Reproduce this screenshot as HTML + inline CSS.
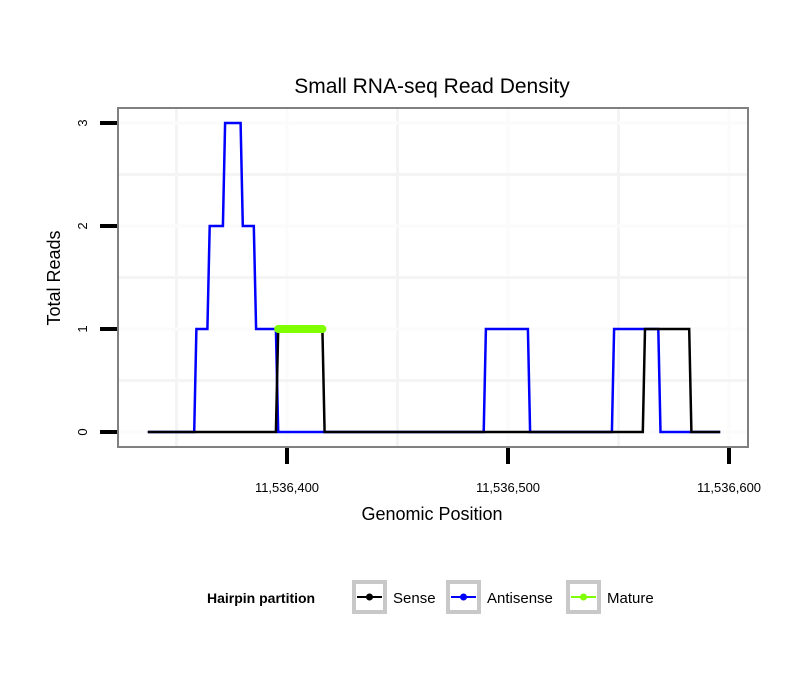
<!DOCTYPE html>
<html><head><meta charset="utf-8"><style>
body{margin:0;background:#fff;width:810px;height:690px;overflow:hidden}
svg text{font-family:"Liberation Sans",sans-serif}
</style></head><body>
<svg width="810" height="690" xmlns="http://www.w3.org/2000/svg">
<text x="432" y="93" text-anchor="middle" font-size="21">Small RNA-seq Read Density</text>
<g id="grid"></g>
<rect x="118" y="108" width="630" height="339" fill="none" stroke="#808080" stroke-width="2"/>
<g id="axes"></g>
<g id="series"></g>
<text x="432" y="520" text-anchor="middle" font-size="18">Genomic Position</text>
<text transform="translate(60,278) rotate(-90)" text-anchor="middle" font-size="18">Total Reads</text>
<g>
<text x="207" y="603" font-size="14" font-weight="bold">Hairpin partition</text>
<g><rect x="354" y="582" width="31" height="30" fill="none" stroke="#c8c8c8" stroke-width="4"/><line x1="357" y1="597" x2="382" y2="597" stroke="#000" stroke-width="2"/><circle cx="369.5" cy="597" r="3.5" fill="#000"/><text x="393" y="603" font-size="15">Sense</text></g>
<g><rect x="448" y="582" width="31" height="30" fill="none" stroke="#c8c8c8" stroke-width="4"/><line x1="451" y1="597" x2="476" y2="597" stroke="#0000ff" stroke-width="2"/><circle cx="463.5" cy="597" r="3.5" fill="#0000ff"/><text x="487" y="603" font-size="15">Antisense</text></g>
<g><rect x="568" y="582" width="31" height="30" fill="none" stroke="#c8c8c8" stroke-width="4"/><line x1="571" y1="597" x2="596" y2="597" stroke="#7fff00" stroke-width="2"/><circle cx="583.5" cy="597" r="3.5" fill="#7fff00"/><text x="607" y="603" font-size="15">Mature</text></g>
</g>
</svg>
<script>
const xTicks=[11536400,11536500,11536600];
const xTickLabels=["11,536,400","11,536,500","11,536,600"];
const yTicks=[0,1,2,3];
const antisensePos=[11536337,11536358,11536359,11536364,11536365,11536371,11536372,11536379,11536380,11536385,11536386,11536395,11536396,11536489,11536490,11536509,11536510,11536547,11536548,11536568,11536569,11536596];
const antisenseVal=[0,0,1,1,2,2,3,3,2,2,1,1,0,0,1,1,0,0,1,1,0,0];
const sensePos=[11536337,11536395,11536396,11536416,11536417,11536561,11536562,11536582,11536583,11536596];
const senseVal=[0,0,1,1,0,0,1,1,0,0];
const maturePos=[11536396,11536416];
const matureVal=[1,1];
const NS='http://www.w3.org/2000/svg';
const xs=v=>287+(v-11536400)*2.21;
const ys=v=>432-v*103;
function mk(tag,attrs,parent){const e=document.createElementNS(NS,tag);for(const k in attrs)e.setAttribute(k,attrs[k]);document.getElementById(parent).appendChild(e);return e;}
// grid
for(let v=11536350;v<=11536650;v+=50){const x=xs(v);if(x<119||x>747)continue;
 const g=mk('line',{x1:x,x2:x,y1:109,y2:446,stroke:(v%100===0)?'#fbfbfb':'#f4f4f4','stroke-width':3},'grid');
 
 }
for(let v=-0.5;v<=3.5;v+=0.5){const y=ys(v);if(y<109||y>446)continue;
 const g=mk('line',{x1:119,x2:747,y1:y,y2:y,stroke:(v%1===0)?'#fbfbfb':'#f4f4f4','stroke-width':3},'grid');
 
 }
// axes
xTicks.forEach((v,i)=>{const x=xs(v);
 const t=mk('line',{x1:x,x2:x,y1:448,y2:464,stroke:'#000','stroke-width':4},'axes');
 
 
 const l=mk('text',{x:x,y:492,'text-anchor':'middle','font-size':13},'axes');l.textContent=xTickLabels[i];
 
 });
yTicks.forEach(v=>{const y=ys(v);
 const t=mk('line',{x1:100,x2:117,y1:y,y2:y,stroke:'#000','stroke-width':4},'axes');
 
 
 const l=mk('text',{transform:`translate(87,${y}) rotate(-90)`,'text-anchor':'middle','font-size':13},'axes');l.textContent=v;
 
 });
function path(pos,val){return pos.map((p,i)=>(i?'L':'M')+xs(p).toFixed(1)+','+ys(val[i]).toFixed(1)).join(' ');}
const a=mk('path',{d:path(antisensePos,antisenseVal),fill:'none',stroke:'#0000ff','stroke-width':2.5},'series');


const s=mk('path',{d:path(sensePos,senseVal),fill:'none',stroke:'#000','stroke-width':2.5},'series');


const m=mk('path',{d:path(maturePos,matureVal),fill:'none',stroke:'#7fff00','stroke-width':8,'stroke-linecap':'round'},'series');


</script>
</body></html>
